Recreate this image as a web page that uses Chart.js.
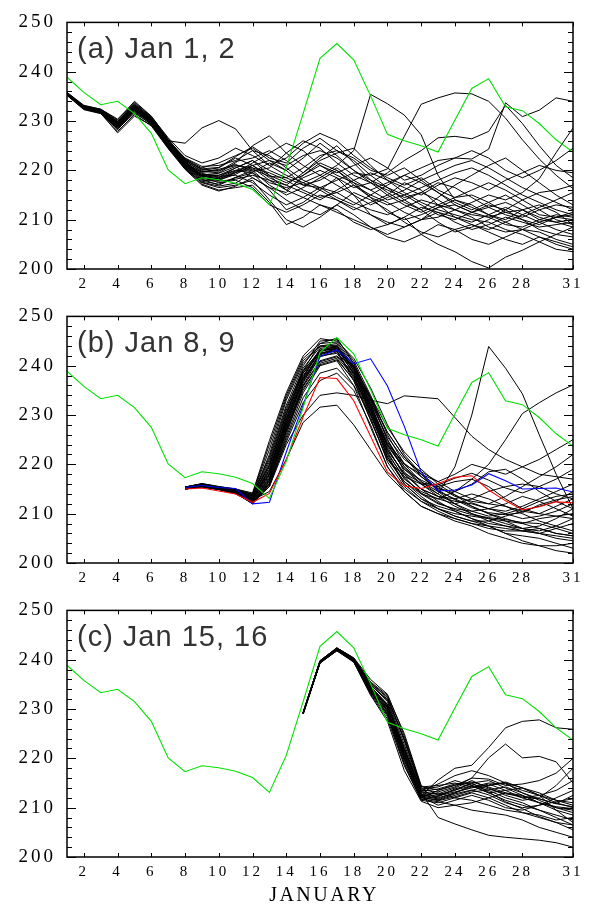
<!DOCTYPE html>
<html>
<head>
<meta charset="utf-8">
<script src="https://cdn.jsdelivr.net/npm/chart.js@4.4.0/dist/chart.umd.min.js"></script>
<style>
  body { margin: 0; background: #fff; }
  #wrap { position: relative; width: 590px; height: 905px; }
  canvas { position: absolute; left: 0; background: #fff; }
</style>
</head>
<body>
<div id="wrap">
  <canvas id="chartA" width="590" height="294" style="top:0"></canvas>
  <canvas id="chartB" width="590" height="294" style="top:294px"></canvas>
  <canvas id="chartC" width="590" height="317" style="top:588px"></canvas>
</div>
<script>
// x tick labels (days of January) and y ticks
const dayTicks = [2, 4, 6, 8, 10, 12, 14, 16, 18, 20, 22, 24, 26, 28, 31];
const yTicks = [200, 210, 220, 230, 240, 250];

// observed (green), days 1..31
const observed = [238.9, 235.8, 233.3, 234.0, 231.5, 227.5, 220.1, 217.3, 218.5, 218.1, 217.4, 216.1, 213.1, 220.6, 231.5,
  242.7, 245.7, 242.4, 235.1, 227.3, 226.0, 225.0, 223.7, 230.2, 236.6, 238.6, 232.9, 232.1, 229.5, 226.2, 223.7];

// (a) forecasts from Jan 1, 2 : days 1..31
const startA = 1;
const membersA = [
  [235.8,233.0,232.3,229.5,233.0,230.4,225.8,221.8,219.0,218.5,220.0,221.0,219.0,217.5,219.0,221.5,220.0,217.0,214.5,213.0,214.0,215.5,214.0,212.0,211.0,210.5,211.5,212.0,210.0,209.5,210.0],
  [235.4,232.6,231.8,228.2,232.2,229.6,224.8,220.8,218.2,217.0,218.5,219.5,216.0,212.0,213.5,216.0,218.5,215.0,211.0,209.5,208.5,210.0,212.5,214.0,213.0,211.0,209.5,208.0,207.5,206.0,205.0],
  [235.6,232.9,232.1,229.8,233.4,230.8,226.2,222.4,220.5,221.5,223.0,224.5,222.0,220.0,222.5,225.5,223.0,220.0,218.0,216.5,215.0,216.5,218.0,219.5,220.5,219.0,217.0,215.0,213.5,212.0,211.0],
  [235.5,232.7,232.0,229.2,232.6,230.2,226.0,225.5,228.6,230.1,228.4,224.0,221.0,219.0,217.5,216.0,214.0,212.0,213.5,215.0,217.5,216.0,213.0,210.5,209.0,208.0,209.5,211.0,212.5,214.0,215.5],
  [235.3,232.4,231.6,227.6,231.0,229.2,224.5,220.5,217.5,216.5,217.0,218.0,214.0,210.0,208.5,210.5,213.0,211.0,208.5,206.5,205.5,207.0,209.0,208.0,206.0,205.0,206.5,208.0,206.5,205.0,204.0],
  [235.7,233.1,232.4,230.2,234.0,231.0,226.4,222.0,219.8,219.5,221.5,225.0,227.0,223.5,221.0,219.0,221.0,224.0,235.4,233.5,231.2,227.2,219.0,214.0,212.5,211.0,210.0,212.0,213.0,211.5,209.0],
  [235.5,232.9,232.2,229.6,232.9,230.3,225.2,221.0,218.8,219.0,220.5,222.0,220.0,218.5,217.0,216.5,218.0,219.5,219.0,220.3,226.9,233.4,234.7,235.7,235.5,234.0,230.6,226.2,222.3,219.0,216.3],
  [235.2,232.5,231.7,228.8,232.4,229.9,225.0,220.9,218.3,218.0,219.5,221.5,223.5,225.5,224.0,221.0,219.0,217.5,216.0,217.5,219.0,220.5,222.0,222.5,222.3,224.3,233.7,230.9,232.2,234.7,234.0],
  [235.6,232.8,232.0,229.4,232.8,230.1,225.4,221.4,219.6,220.0,221.0,220.5,218.0,216.0,218.5,220.0,218.5,216.5,217.5,219.5,222.0,224.0,226.6,226.9,226.4,227.9,233.2,229.5,225.0,221.0,218.5],
  [235.4,232.7,231.9,229.0,232.5,229.8,225.1,221.2,219.0,218.8,219.0,217.5,215.0,213.0,214.5,216.5,215.5,213.5,212.0,211.0,212.5,214.0,213.0,212.0,213.5,215.0,214.0,215.5,218.3,223.6,228.6],
  [235.3,232.5,231.7,228.4,231.6,229.4,224.6,220.4,217.2,216.0,216.5,217.0,213.5,209.0,210.5,213.0,212.0,209.5,208.0,209.0,210.5,207.0,205.0,203.5,201.5,200.2,202.4,203.8,205.5,207.0,208.5],
  [235.8,233.2,232.4,230.4,233.8,230.9,226.6,223.0,221.5,222.5,224.5,223.0,221.0,222.5,225.5,227.5,226.0,223.0,220.5,218.5,217.0,218.5,216.0,214.5,216.0,217.5,216.0,214.0,212.0,210.0,209.0],
  [235.5,232.8,232.1,229.3,232.7,230.0,225.6,221.6,218.9,218.2,219.8,220.5,219.5,218.0,216.0,214.5,215.5,217.0,215.0,213.5,211.5,210.0,210.5,212.0,210.5,208.5,207.5,208.0,209.5,210.5,211.0],
  [235.6,232.9,232.2,229.7,233.2,230.6,225.9,222.2,220.2,219.8,221.8,222.5,224.0,222.0,219.5,222.5,225.0,221.5,218.0,215.5,213.5,212.0,214.5,217.0,219.0,221.0,222.5,220.0,217.5,215.0,213.0],
  [235.2,232.3,231.5,227.9,231.3,229.0,224.4,220.2,217.0,215.8,216.8,218.5,216.5,214.0,212.0,211.0,213.0,215.5,214.0,212.0,209.5,207.5,206.5,208.0,209.0,207.5,206.0,205.0,206.5,205.5,204.5],
  [235.7,233.0,232.3,230.0,233.6,230.7,226.1,222.3,220.0,220.5,222.5,221.0,218.5,217.0,219.5,222.0,223.5,224.5,221.0,218.0,216.5,215.0,217.0,218.5,217.5,216.0,218.0,219.5,221.0,220.0,219.5],
  [235.4,232.6,231.9,228.9,232.3,229.7,225.3,221.1,218.6,217.5,218.0,216.5,213.0,211.5,213.0,215.0,214.0,212.5,211.0,209.0,210.5,212.5,211.5,209.5,208.0,209.0,210.5,209.5,208.5,209.0,209.5],
  [235.5,232.7,232.0,229.1,232.6,230.0,225.5,221.5,219.2,219.0,220.0,219.5,217.5,216.5,217.5,219.0,217.0,215.0,213.0,214.5,216.0,218.0,219.5,221.0,222.0,220.5,218.5,216.5,215.0,213.5,212.0],
  [235.3,232.6,231.8,228.6,232.0,229.5,224.9,220.6,217.8,217.2,218.6,220.0,217.0,215.0,216.5,218.5,220.5,218.0,216.0,214.0,215.0,213.0,211.0,210.0,211.5,213.0,212.0,210.0,208.0,207.0,206.5],
  [235.6,232.9,232.2,229.9,233.3,230.5,226.0,222.5,220.8,221.0,222.0,224.0,223.0,220.5,218.0,216.5,214.5,213.0,215.0,217.0,219.0,217.5,215.5,213.5,212.0,213.5,215.0,213.0,211.0,210.5,210.0],
  [235.4,232.7,231.9,229.2,232.4,229.8,225.2,221.0,218.5,218.0,219.2,221.0,222.0,221.0,223.0,224.0,222.5,220.0,217.5,215.0,213.0,211.5,213.0,214.5,215.0,213.5,211.5,210.5,212.0,213.0,212.5],
  [235.5,232.8,232.0,229.5,232.8,230.2,225.7,221.7,219.4,218.6,220.5,222.0,219.0,216.0,214.5,213.0,211.5,210.0,208.5,207.0,208.5,210.0,211.5,210.5,209.5,211.0,212.5,211.0,209.5,208.0,207.0],
  [235.7,233.0,232.2,229.6,233.0,230.4,225.7,221.9,219.7,220.2,221.2,219.8,220.5,223.5,226.0,224.5,221.5,219.0,217.5,216.0,214.5,215.5,217.5,216.5,214.5,212.5,211.0,210.0,209.0,210.5,211.5],
  [235.3,232.5,231.7,228.7,232.1,229.6,224.7,220.7,218.0,217.8,218.2,219.0,218.0,217.0,215.5,214.0,216.0,218.0,219.5,218.0,215.5,213.5,212.0,211.0,210.0,209.5,208.0,207.0,205.5,204.0,203.5],
  [235.6,232.8,232.1,229.4,232.9,230.3,225.6,221.3,219.1,219.4,220.8,218.5,216.5,215.5,219.0,221.0,219.5,221.0,222.5,220.5,218.0,219.0,221.0,222.5,224.0,222.5,220.0,218.5,220.0,222.0,224.5],
  [235.5,232.7,232.0,229.0,232.5,229.9,225.3,221.2,218.8,218.3,219.6,220.2,218.8,218.5,220.5,223.0,224.0,222.0,219.0,216.5,214.0,212.0,209.5,207.5,208.5,210.0,212.0,214.0,215.5,216.0,217.0],
  [235.4,232.6,231.8,228.5,231.8,229.3,224.6,220.3,217.6,216.8,217.4,219.6,221.5,220.0,217.0,218.0,220.0,217.5,214.5,211.5,210.0,211.0,212.5,213.0,211.5,210.5,209.0,208.5,210.0,211.0,210.5],
  [235.6,232.9,232.1,229.6,233.1,230.5,225.8,222.1,220.3,220.6,222.8,224.8,222.5,221.5,224.5,226.5,224.0,222.5,220.0,219.0,220.5,218.0,215.5,213.0,211.5,212.5,213.5,212.0,210.5,209.5,208.5]
];

// (b) forecasts from Jan 8, 9 : days 8..31
const startB = 8;
const blueB = [215.3,215.7,215.3,215.1,212.0,212.3,222.5,232.0,241.9,243.2,240.4,241.4,235.9,227.7,218.4,214.6,214.8,215.8,218.1,216.7,215.0,215.1,215.2,214.4];
const redB = [215.0,215.2,214.6,214.0,212.3,214.1,221.0,229.6,237.6,237.4,232.9,225.7,218.4,215.6,215.1,216.1,217.4,217.7,214.8,212.6,210.8,211.4,212.4,212.2];
const membersB = [
  [215.2,215.8,215.2,214.6,213.0,218.0,228.0,237.5,243.5,244.0,239.0,231.0,223.0,218.0,215.0,212.5,210.5,209.0,208.0,207.5,206.5,206.0,205.5,205.0],
  [215.0,215.5,215.0,214.4,212.5,216.0,226.0,236.0,242.0,242.5,238.0,230.0,221.5,216.5,213.5,211.0,209.5,208.5,207.5,206.0,205.5,205.0,204.0,203.0],
  [215.4,216.0,215.4,214.8,213.5,220.0,230.5,239.0,244.5,245.6,240.5,233.0,225.0,219.5,216.0,213.5,211.5,210.0,209.0,208.5,208.0,209.0,209.5,210.0],
  [215.1,215.6,215.0,214.2,212.0,215.5,224.0,230.0,234.0,234.5,234.0,233.0,232.3,233.9,233.6,233.3,229.5,225.7,223.0,221.0,219.5,218.0,217.5,217.0],
  [215.3,215.7,215.1,214.5,212.8,214.5,221.0,228.5,231.6,232.0,228.0,223.0,218.0,214.5,211.5,210.0,209.0,208.0,207.5,207.0,206.5,206.0,207.0,208.0],
  [215.2,215.9,215.3,214.7,213.2,219.0,229.5,238.5,243.0,243.5,238.5,231.5,224.0,219.0,216.0,214.0,219.5,230.0,243.9,239.5,234.3,226.0,218.0,211.0],
  [215.0,215.4,214.9,214.0,212.2,216.5,227.0,236.5,242.5,243.0,237.0,229.0,221.0,216.5,214.0,213.0,214.5,217.0,220.0,225.0,230.3,232.5,234.5,236.1],
  [215.4,216.1,215.5,215.0,213.8,221.5,232.0,240.0,245.0,245.3,241.0,234.0,226.0,220.0,216.5,214.0,212.0,210.5,209.5,210.0,211.0,212.5,213.5,214.0],
  [215.2,215.7,215.1,214.5,212.6,217.5,228.5,237.0,242.5,243.5,239.5,232.0,224.5,220.0,218.0,216.5,218.0,220.0,219.0,218.0,219.5,221.0,223.0,225.0],
  [215.1,215.5,214.9,214.2,212.1,215.8,225.5,234.5,240.0,241.0,236.0,227.5,219.5,215.0,212.5,211.0,210.0,209.5,209.0,208.0,207.0,207.5,209.0,211.0],
  [215.3,215.8,215.2,214.6,213.1,218.5,229.0,238.0,243.0,244.0,240.0,232.5,223.5,217.5,214.0,212.0,211.0,210.5,211.0,212.0,213.5,212.5,211.0,209.5],
  [215.0,215.6,215.0,214.3,212.4,216.8,227.5,236.0,241.0,242.0,238.5,231.0,222.0,216.0,213.0,211.5,210.5,209.0,207.5,206.0,204.5,203.5,202.5,202.0],
  [215.4,215.9,215.3,214.8,213.6,222.0,233.0,240.5,244.0,244.0,239.5,231.5,222.5,217.0,214.5,213.0,212.0,213.0,214.5,215.5,216.0,215.5,214.0,213.0],
  [215.2,215.7,215.0,214.4,212.7,217.0,227.8,236.8,241.8,242.8,238.8,232.5,225.5,221.0,218.5,216.5,214.5,213.0,212.0,211.5,210.5,210.0,209.5,209.0],
  [215.1,215.6,215.1,214.5,212.9,219.5,230.0,238.5,242.5,243.0,237.5,229.5,220.5,215.5,212.5,210.5,209.0,208.0,207.0,206.5,206.5,207.0,206.0,205.5],
  [215.3,216.0,215.4,214.9,214.0,224.0,234.0,241.5,244.5,244.8,240.5,233.5,226.5,221.5,217.5,215.0,214.5,216.0,218.5,219.0,217.0,214.5,212.5,211.0],
  [215.0,215.5,214.9,214.1,212.2,216.2,226.5,235.0,240.5,241.5,237.0,229.0,221.0,217.5,216.0,215.5,216.5,217.0,215.5,213.0,211.0,210.0,211.5,213.0],
  [215.2,215.8,215.2,214.7,213.4,220.5,231.0,239.5,243.8,244.2,239.0,230.5,221.5,216.0,213.0,211.0,209.5,208.5,208.5,209.5,210.5,211.5,212.5,214.5],
  [215.1,215.6,215.0,214.3,212.3,215.5,225.0,233.5,238.5,239.5,236.0,230.0,224.0,219.5,216.5,214.5,213.0,211.5,210.0,208.5,207.0,206.5,207.5,209.0],
  [215.3,215.9,215.3,214.8,213.7,221.0,231.5,239.0,243.0,243.5,239.5,233.0,226.5,221.5,218.0,215.5,213.5,212.5,212.0,213.5,215.5,217.5,219.5,222.0],
  [215.2,215.7,215.1,214.6,213.0,218.8,229.2,237.8,242.8,243.8,240.0,233.5,225.0,218.5,215.0,213.5,212.5,212.0,211.0,210.5,211.5,213.0,214.5,216.0],
  [215.0,215.5,215.0,214.2,212.0,216.0,224.5,232.5,237.0,238.5,235.0,228.0,219.5,214.5,211.5,210.0,208.5,207.5,206.0,205.0,204.0,203.5,203.5,204.0],
  [215.4,216.0,215.4,214.9,213.9,223.0,233.5,241.0,244.0,244.5,240.0,232.0,223.0,218.0,215.0,213.5,213.0,214.0,213.0,211.5,210.0,208.5,207.5,206.5],
  [215.2,215.8,215.1,214.5,212.8,217.8,228.2,237.2,242.2,243.2,239.2,231.8,223.8,219.0,216.8,215.2,213.8,212.2,211.0,210.0,209.0,209.5,210.5,212.0],
  [215.1,215.6,215.0,214.4,212.6,217.2,227.2,235.8,240.8,241.8,237.8,230.8,222.8,218.2,216.2,215.8,217.2,218.2,216.8,215.2,214.2,215.5,217.0,219.0],
  [215.3,215.9,215.2,214.7,213.3,219.8,230.2,238.8,243.2,243.8,238.2,230.2,222.2,217.2,214.2,212.2,210.8,209.8,209.2,208.8,208.2,208.0,207.0,206.0],
  [215.2,215.7,215.0,214.5,212.9,218.2,228.8,237.4,242.4,243.4,239.8,233.8,227.5,222.5,219.0,216.0,213.8,211.5,210.0,209.0,208.0,207.0,206.0,205.5],
  [215.0,215.4,214.9,214.1,212.3,216.6,226.8,235.4,240.2,241.2,237.2,231.2,224.2,220.2,217.5,214.8,212.8,211.2,210.2,209.8,210.2,211.8,212.8,213.5],
  [215.4,216.1,215.5,215.0,214.2,224.8,234.5,242.0,245.5,245.0,241.5,235.5,228.0,222.0,218.0,214.5,212.0,210.0,208.5,207.5,207.0,206.0,205.0,204.5]
];

// (c) forecasts from Jan 15, 16 : days 15..31
const startC = 15;
const membersC = [
  [229.2,239.6,242.2,240.0,234.5,230.5,221.0,212.5,215.6,218.0,218.6,222.2,226.2,227.5,227.8,226.2,225.9],
  [229.0,239.4,242.0,239.8,233.5,229.0,219.5,212.0,213.5,214.5,216.0,220.1,222.9,220.1,220.4,219.3,215.0],
  [229.3,239.7,242.3,240.2,235.0,231.5,222.0,213.0,208.0,206.7,205.5,204.4,204.0,203.7,203.4,202.9,202.0],
  [229.1,239.5,242.1,239.9,234.0,230.0,220.5,212.5,212.0,213.0,214.5,213.5,212.0,211.0,209.5,208.5,207.5],
  [229.2,239.6,242.2,240.1,234.8,232.0,224.0,214.0,211.5,212.5,213.5,214.5,215.0,214.0,212.5,211.0,210.0],
  [229.0,239.3,241.8,239.6,233.0,228.0,218.5,211.5,211.0,212.0,213.0,212.0,210.5,209.0,208.0,207.0,206.5],
  [229.3,239.8,242.4,240.3,235.5,232.8,225.0,214.5,212.5,213.5,215.0,215.5,214.0,212.5,211.0,210.0,209.5],
  [229.1,239.5,242.0,239.7,233.8,229.5,220.0,212.2,210.5,211.5,212.5,211.5,210.0,209.5,210.5,212.0,213.5],
  [229.2,239.6,242.1,240.0,234.2,230.8,221.5,213.2,212.8,214.0,215.5,214.0,212.5,211.5,212.0,214.5,218.0],
  [229.0,239.4,241.9,239.7,233.2,228.5,219.0,211.8,211.2,210.5,209.5,209.0,208.5,207.5,206.0,205.0,204.0],
  [229.3,239.7,242.3,240.2,235.2,232.3,223.5,213.8,214.2,215.5,214.5,213.0,213.5,214.0,213.0,211.5,210.5],
  [229.1,239.5,242.1,239.9,234.3,230.2,220.8,212.6,213.0,212.0,211.5,210.5,209.5,209.0,208.5,207.5,208.0],
  [229.2,239.6,242.2,240.0,234.6,231.0,222.2,213.4,214.8,216.5,217.5,216.5,215.0,213.0,211.5,210.0,209.0],
  [229.0,239.3,241.9,239.6,233.4,228.8,218.8,211.6,212.4,213.2,214.0,214.8,213.5,212.0,212.5,213.5,215.5],
  [229.3,239.8,242.4,240.4,236.0,233.0,224.5,214.3,213.6,214.6,215.0,213.2,211.2,209.8,208.2,207.0,205.5],
  [229.1,239.5,242.0,239.8,233.9,229.8,220.3,212.3,211.8,213.0,214.2,215.0,214.8,213.5,212.5,211.5,211.0],
  [229.2,239.6,242.2,240.1,234.4,230.6,221.3,213.1,212.2,213.8,214.8,213.8,212.8,212.3,211.8,210.8,210.2],
  [229.0,239.4,241.8,239.5,232.8,227.5,217.5,211.3,210.0,210.5,211.0,212.0,213.0,212.5,211.0,209.5,208.5],
  [229.3,239.7,242.3,240.2,235.0,231.8,222.8,213.6,213.2,214.2,216.0,215.8,214.5,214.8,215.5,217.0,220.0],
  [229.1,239.5,242.1,239.9,234.1,230.3,220.6,212.4,212.6,213.6,214.4,213.0,211.5,210.5,209.5,208.0,206.5],
  [229.2,239.6,242.1,240.0,234.5,230.9,221.8,213.3,213.8,214.8,215.2,214.2,213.0,212.0,211.0,210.2,209.8],
  [229.0,239.4,241.9,239.7,233.6,229.2,219.8,212.0,211.6,212.8,213.6,212.6,211.0,210.0,210.5,211.2,211.8],
  [229.3,239.8,242.4,240.3,235.3,232.5,223.8,214.2,214.5,215.0,214.2,214.5,215.2,214.0,212.5,209.5,207.0],
  [229.1,239.5,242.0,239.8,234.0,229.6,220.2,212.2,211.4,212.2,213.2,213.6,214.2,213.0,211.8,210.8,212.5]
];

function points(values, start) {
  return values.map((v, i) => ({ x: start + i, y: v }));
}

function lineSet(values, start, color, width, order) {
  return {
    data: points(values, start),
    borderColor: color,
    borderWidth: width,
    pointRadius: 0,
    tension: 0,
    fill: false,
    order: order
  };
}

const tickFamily = '"Liberation Serif", "Times New Roman", serif';

// inward ticks, frame box, panel label and axis title
const framePlugin = {
  id: 'frame',
  beforeDraw(chart) {
    // spaced-out digits for the tick labels, like the original plot
    chart.ctx.letterSpacing = '3px';
  },
  afterDraw(chart, args, opts) {
    const { ctx, chartArea: a, scales: { x, y } } = chart;
    ctx.letterSpacing = '0px';
    ctx.save();
    ctx.strokeStyle = '#000';
    ctx.lineWidth = 1;
    ctx.beginPath();
    for (let v = 200; v <= 250; v += 2) {
      const py = Math.round(y.getPixelForValue(v)) + 0.5;
      const len = v % 10 === 0 ? 9 : 5;
      ctx.moveTo(a.left, py); ctx.lineTo(a.left + len, py);
      ctx.moveTo(a.right, py); ctx.lineTo(a.right - len, py);
    }
    for (const d of dayTicks) {
      const px = Math.round(x.getPixelForValue(d)) + 0.5;
      ctx.moveTo(px, a.top); ctx.lineTo(px, a.top + 4);
      ctx.moveTo(px, a.bottom); ctx.lineTo(px, a.bottom - 4);
    }
    ctx.stroke();
    ctx.lineWidth = 1.5;
    ctx.strokeRect(a.left, a.top, a.right - a.left, a.bottom - a.top);

    ctx.fillStyle = '#333';
    ctx.font = '29px "Liberation Sans", Arial, sans-serif';
    ctx.letterSpacing = '1px';
    ctx.textAlign = 'left';
    ctx.textBaseline = 'alphabetic';
    ctx.fillText(opts.label, a.left + 10, a.top + 36);

    if (opts.axisTitle) {
      ctx.fillStyle = '#000';
      ctx.font = '20px ' + tickFamily;
      ctx.letterSpacing = '2.5px';
      ctx.textAlign = 'center';
      ctx.fillText(opts.axisTitle, (a.left + a.right) / 2 + 4, a.bottom + 44);
    }
    ctx.restore();
  }
};

function makeChart(id, label, datasets, axisTitle) {
  const canvas = document.getElementById(id);
  const h = canvas.height;
  return new Chart(canvas.getContext('2d'), { // eslint-disable-line
    type: 'line',
    data: { datasets: datasets },
    plugins: [framePlugin],
    options: {
      responsive: false,
      animation: false,
      devicePixelRatio: 1,
      layout: { padding: { top: 17, right: 17, left: 0, bottom: 0 } },
      plugins: {
        legend: { display: false },
        tooltip: { enabled: false },
        frame: { label: label, axisTitle: axisTitle }
      },
      scales: {
        x: {
          type: 'linear',
          min: 1,
          max: 31,
          afterFit: (s) => { s.height = h - 17 - 252; },
          afterBuildTicks: (s) => { s.ticks = dayTicks.map(v => ({ value: v })); },
          grid: { display: false, drawTicks: false },
          border: { display: false },
          ticks: {
            autoSkip: false,
            maxRotation: 0,
            padding: 6,
            color: '#000',
            font: { family: tickFamily, size: 15 },
            callback: (v) => String(v)
          }
        },
        y: {
          min: 200,
          max: 250,
          afterFit: (s) => { s.width = 67; },
          afterBuildTicks: (s) => { s.ticks = yTicks.map(v => ({ value: v })); },
          grid: { display: false, drawTicks: false },
          border: { display: false },
          ticks: {
            padding: 11,
            color: '#000',
            font: { family: tickFamily, size: 19 },
            callback: (v) => String(v)
          }
        }
      }
    }
  });
}

const green = '#00e000';

const setsA = [lineSet(observed, 1, green, 1.1, 0)];
for (const m of membersA) setsA.push(lineSet(m, startA, '#000', 1, 2));

const setsB = [lineSet(observed, 1, green, 1.1, 0), lineSet(redB, startB, '#ff0000', 1.1, 1), lineSet(blueB, startB, '#0000ff', 1.1, 1)];
for (const m of membersB) setsB.push(lineSet(m, startB, '#000', 1, 2));

const setsC = [lineSet(observed, 1, green, 1.1, 0)];
for (const m of membersC) setsC.push(lineSet(m, startC, '#000', 1, 2));

makeChart('chartA', '(a) Jan 1, 2', setsA, null);
makeChart('chartB', '(b) Jan 8, 9', setsB, null);
makeChart('chartC', '(c) Jan 15, 16', setsC, 'JANUARY');
</script>
</body>
</html>
